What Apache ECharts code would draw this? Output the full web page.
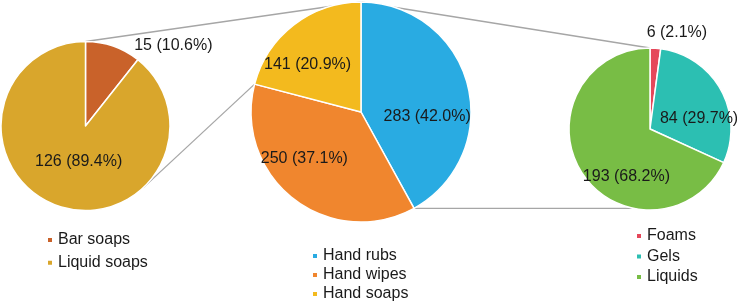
<!DOCTYPE html>
<html>
<head>
<meta charset="utf-8">
<script src="https://cdn.jsdelivr.net/npm/echarts@6/dist/echarts.min.js"></script>
<style>html,body{margin:0;padding:0;background:#fff;}#c{width:737px;height:301px;}</style>
</head>
<body>
<div id="c"></div>
<script>
// ---- data ----
const soapCategories = ['Bar soaps', 'Liquid soaps'];
const soapValues = [15, 126];
const handCategories = ['Hand rubs', 'Hand wipes', 'Hand soaps'];
const handValues = [283, 250, 141];
const rubCategories = ['Foams', 'Gels', 'Liquids'];
const rubValues = [6, 84, 193];

// ---- styles / layout ----
const soapColors = ['#C9622A', '#D9A62C'];
const handColors = ['#29ABE2', '#F0862E', '#F3BA1E'];
const rubColors = ['#E5475A', '#2CBFB2', '#78BD45'];
const soapShift = [[73, -38], [8, -7]];
const handShift = [[10, 19], [-21, 1], [-18, -1]];
const rubShift = [[24, -53], [11, 11], [13, 24]];
const GL = {cx: 85.5, cy: 126, r: 84.5};
const GM = {cx: 361, cy: 112, r: 110};
const GR = {cx: 650, cy: 129, r: 81};
const FONT = '"Liberation Sans", Arial, sans-serif';
const TXT = '#1a1a1a';

function pt(g, deg) {
  const a = deg * Math.PI / 180;
  return [g.cx + g.r * Math.sin(a), g.cy - g.r * Math.cos(a)];
}
function sum(a) { return a.reduce((s, v) => s + v, 0); }

function makeSeries(name, cats, vals, colors, g, shifts) {
  const total = sum(vals);
  return {
    type: 'pie', name: name,
    center: [g.cx, g.cy], radius: g.r,
    startAngle: 90, clockwise: true,
    avoidLabelOverlap: false,
    animation: false, silent: true,
    itemStyle: {borderColor: '#fff', borderWidth: 1.5},
    label: {
      show: true, position: 'inside',
      fontFamily: FONT, fontSize: 16, color: TXT,
      formatter: p => p.value + ' (' + (p.value / total * 100).toFixed(1) + '%)'
    },
    labelLine: {show: false},
    labelLayout: p => ({dx: shifts[p.dataIndex][0], dy: shifts[p.dataIndex][1]}),
    data: cats.map((c, i) => ({name: c, value: vals[i], itemStyle: {color: colors[i]}}))
  };
}

// connector lines, derived from pie geometry and slice angles
const handTotal = sum(handValues);
const soapStartDeg = (handValues[0] + handValues[1]) / handTotal * 360;
const rubEndDeg = handValues[0] / handTotal * 360;
const lines = [];
lines.push([pt(GL, 0), pt(GM, 0)]);
(function () {
  const P = pt(GM, soapStartDeg);
  const dx = P[0] - GL.cx, dy = P[1] - GL.cy;
  const d = Math.sqrt(dx * dx + dy * dy);
  const a = Math.atan2(dy, dx) + Math.acos(GL.r / d);
  lines.push([[GL.cx + GL.r * Math.cos(a), GL.cy + GL.r * Math.sin(a)], P]);
})();
lines.push([pt(GM, 0), pt(GR, 0)]);
(function () {
  const P = pt(GM, rubEndDeg);
  const dy = P[1] - GR.cy;
  const x = GR.cx - Math.sqrt(Math.max(0, GR.r * GR.r - dy * dy));
  lines.push([P, [x, P[1]]]);
})();

function legend(cats, left, top, gap) {
  return {
    data: cats, orient: 'vertical', left: left, top: top, padding: 0,
    width: 120, height: 90,
    icon: 'rect', itemWidth: 6, itemHeight: 6, itemGap: gap,
    selectedMode: false,
    textStyle: {fontFamily: FONT, fontSize: 16, lineHeight: 16, color: TXT}
  };
}

const chart = echarts.init(document.getElementById('c'), null, {renderer: 'canvas'});
chart.setOption({
  backgroundColor: '#fff',
  animation: false,
  legend: [
    legend(soapCategories, 46, 232, 6.7),
    legend(handCategories, 311, 248, 3),
    legend(rubCategories, 635, 228, 4.5)
  ],
  graphic: lines.map(l => ({
    type: 'line', silent: true, z: 0,
    shape: {x1: l[0][0], y1: l[0][1], x2: l[1][0], y2: l[1][1]},
    style: {stroke: '#A6A6A6', lineWidth: 1.3}
  })),
  series: [
    makeSeries('soaps', soapCategories, soapValues, soapColors, GL, soapShift),
    makeSeries('hand', handCategories, handValues, handColors, GM, handShift),
    makeSeries('rubs', rubCategories, rubValues, rubColors, GR, rubShift)
  ]
});
</script>
</body>
</html>
